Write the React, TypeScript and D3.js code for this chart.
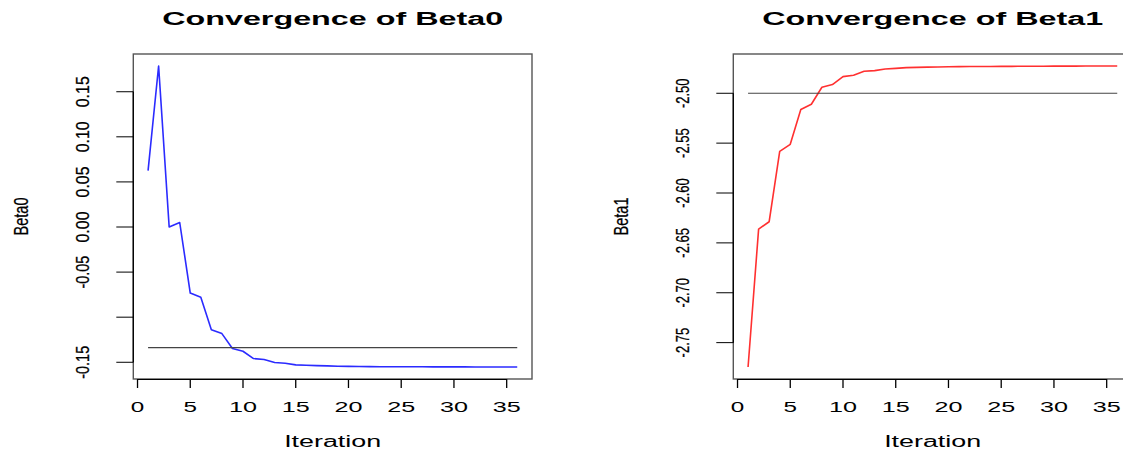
import React from "react";
import * as d3 from "d3";

const iterations = d3.range(1, 37);
const beta0 = [
  0.0626, 0.1785, 0.0, 0.005, -0.0732, -0.078, -0.1138, -0.1182, -0.1348, -0.1378,
  -0.1459, -0.147, -0.1503, -0.1511, -0.1529, -0.1533, -0.1537, -0.154, -0.1544, -0.1546,
  -0.1547, -0.1548, -0.1549, -0.1549, -0.155, -0.155, -0.155, -0.1551, -0.1551, -0.1551,
  -0.1551, -0.1552, -0.1552, -0.1552, -0.1552, -0.1552,
];
const beta1 = [
  -2.7744, -2.6362, -2.6288, -2.5582, -2.5512, -2.5163, -2.511, -2.494, -2.4913, -2.4833,
  -2.482, -2.478, -2.4773, -2.4757, -2.475, -2.4743, -2.474, -2.4738, -2.4737, -2.4734,
  -2.4733, -2.4732, -2.4731, -2.4731, -2.473, -2.473, -2.4729, -2.4729, -2.4729, -2.4728,
  -2.4728, -2.4728, -2.4727, -2.4727, -2.4727, -2.4727,
];
const refBeta0 = -0.1337;
const refBeta1 = -2.5;

const xTicks = [0, 5, 10, 15, 20, 25, 30, 35];
const yTicks0 = [-0.15, -0.1, -0.05, 0, 0.05, 0.1, 0.15];
const yTickLabels0 = ["-0.15", "", "-0.05", "0.00", "0.05", "0.10", "0.15"];
const yTicks1 = [-2.75, -2.7, -2.65, -2.6, -2.55, -2.5];
const yTickLabels1 = ["-2.75", "-2.70", "-2.65", "-2.60", "-2.55", "-2.50"];

const titles = ["Convergence of Beta0", "Convergence of Beta1"];
const yLabels = ["Beta0", "Beta1"];
const xLabel = "Iteration";

const FONT = "'Liberation Sans', Arial, Helvetica, sans-serif";

type LabelProps = {
  x: number;
  y: number;
  text: string;
  size: number;
  length: number;
  rotate?: boolean;
  bold?: boolean;
};

function Label({ x, y, text, size, length, rotate, bold }: LabelProps) {
  if (!text) return null;
  return (
    <text
      transform={`translate(${x},${y})${rotate ? " rotate(-90)" : ""}`}
      textAnchor="middle"
      fontFamily={FONT}
      fontSize={size}
      fontWeight={bold ? "bold" : "normal"}
      textLength={length}
      lengthAdjust="spacingAndGlyphs"
      fill="#000"
      stroke={rotate ? "#000" : "none"}
      strokeWidth={rotate ? 0.25 : 0}
    >
      {text}
    </text>
  );
}

type PanelProps = {
  left: number;
  right: number;
  values: number[];
  refValue: number;
  color: string;
  yTicks: number[];
  yTickLabels: string[];
  title: string;
  yLabel: string;
  tickLabelLen: (s: string) => number;
};

function Panel({ left, right, values, refValue, color, yTicks, yTickLabels, title, yLabel, tickLabelLen }: PanelProps) {
  const top = 54;
  const bottom = 379;
  const xPad = (36 - 1) * 0.04;
  const x = d3.scaleLinear().domain([1 - xPad, 36 + xPad]).range([left, right]);
  const [mn, mx] = d3.extent(values) as [number, number];
  const yPad = (mx - mn) * 0.04;
  const y = d3.scaleLinear().domain([mn - yPad, mx + yPad]).range([bottom, top]);
  const line = d3
    .line<number>()
    .x((_, i) => x(iterations[i]))
    .y((d) => y(d));
  const cx = (left + right) / 2;
  const cy = (top + bottom) / 2;
  const tickLenX = 17;
  const tickLenY = 8;
  return (
    <g>
      <Label x={cx} y={25} text={title} size={17.5} length={341} bold />
      <rect x={left} y={top} width={right - left} height={bottom - top} fill="none" stroke="#555" strokeWidth={1.4} />
      <path d={line(values) || ""} fill="none" stroke={color} strokeWidth={1.6} strokeLinejoin="round" />
      <line x1={x(1)} x2={x(36)} y1={y(refValue)} y2={y(refValue)} stroke="#444" strokeWidth={1.2} />
      {/* x axis */}
      <line x1={x(xTicks[0])} x2={x(xTicks[xTicks.length - 1])} y1={bottom + 0.5} y2={bottom + 0.5} stroke="#000" strokeWidth={1} />
      {xTicks.map((t) => (
        <g key={t}>
          <line x1={x(t)} x2={x(t)} y1={bottom} y2={bottom + tickLenY + 1} stroke="#000" strokeWidth={1.3} />
          <Label x={x(t)} y={411.5} text={String(t)} size={14.5} length={String(t).length > 1 ? 28 : 13.5} />
        </g>
      ))}
      <Label x={cx} y={447} text={xLabel} size={16} length={97} />
      {/* y axis */}
      <line x1={left} x2={left} y1={y(yTicks[0])} y2={y(yTicks[yTicks.length - 1])} stroke="#000" strokeWidth={1.3} />
      {yTicks.map((t, i) => (
        <g key={t}>
          <line x1={left - tickLenX} x2={left} y1={y(t)} y2={y(t)} stroke="#000" strokeWidth={1} />
          <Label x={left - 44.5} y={y(t)} text={yTickLabels[i]} size={18} length={tickLabelLen(yTickLabels[i])} rotate />
        </g>
      ))}
      <Label x={left - 105} y={cy} text={yLabel} size={19.5} length={38} rotate />
    </g>
  );
}

export default function App() {
  return (
    <svg
      width={1123}
      height={449}
      viewBox="0 0 1123 449"
      style={{ position: "absolute", left: 0, top: 0, display: "block", background: "#fff" }}
    >
      <rect x={0} y={0} width={1123} height={449} fill="#fff" />
      <Panel
        left={133.3}
        right={532}
        values={beta0}
        refValue={refBeta0}
        color="#2b2bff"
        yTicks={yTicks0}
        yTickLabels={yTickLabels0}
        title={titles[0]}
        yLabel={yLabels[0]}
        tickLabelLen={(s) => (s.length > 4 ? 33 : 31)}
      />
      <Panel
        left={733.3}
        right={1132}
        values={beta1}
        refValue={refBeta1}
        color="#ff3030"
        yTicks={yTicks1}
        yTickLabels={yTickLabels1}
        title={titles[1]}
        yLabel={yLabels[1]}
        tickLabelLen={() => 29.5}
      />
    </svg>
  );
}
